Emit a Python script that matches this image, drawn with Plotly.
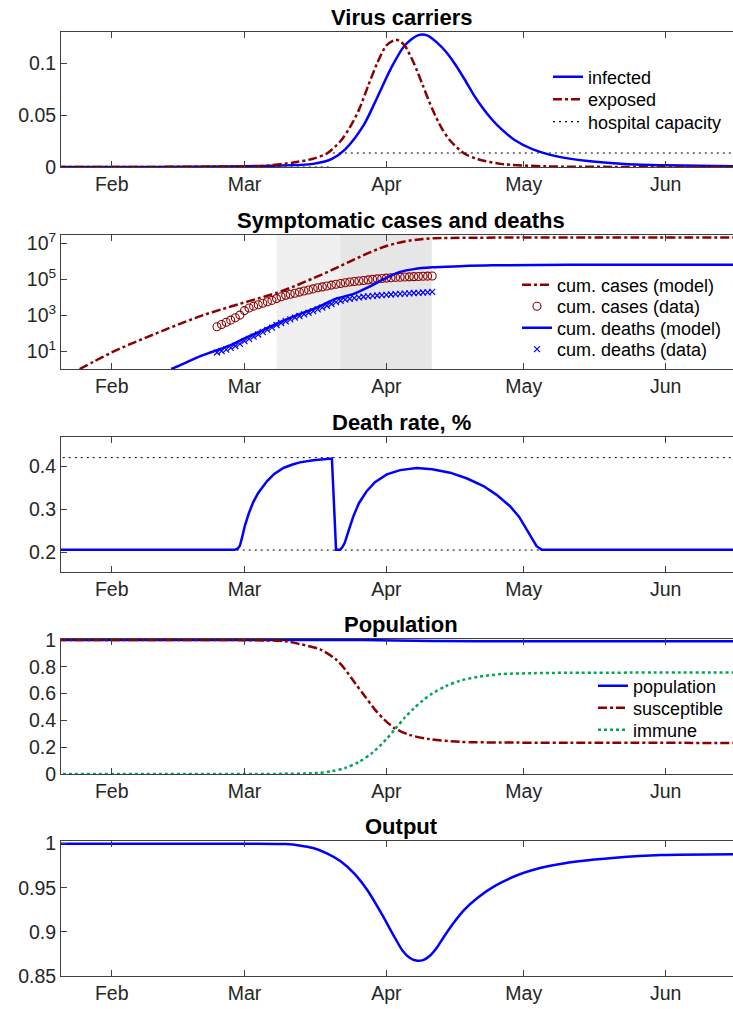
import pandas as pd
import plotly.graph_objects as go

W, H = 733, 1009
BASE = pd.Timestamp("2020-02-01")   # day 0 of every "day" array below

BLUE = "#0000ff"
DARKRED = "#8b0000"
GREEN = "#00a651"
AXIS = "#404040"
TEXT = "#262626"
FONT = "Liberation Sans, Arial, sans-serif"

# ---------------- Virus carriers (share of population) ----------------
infected_day = [-12, 10, 25, 35, 44, 48, 51, 55, 58, 61, 64, 67, 69, 71, 73, 75, 77, 79,
                81, 83, 85, 88, 92, 97, 104, 112, 121, 137]
infected = [0, 0.0001, 0.0005, 0.0012, 0.003, 0.0075, 0.017, 0.040, 0.067, 0.095, 0.117,
            0.127, 0.1265, 0.120, 0.111, 0.099, 0.085, 0.070, 0.057, 0.046, 0.037, 0.026,
            0.017, 0.0105, 0.0058, 0.003, 0.0017, 0.0006]

exposed_day = [-12, 10, 25, 33, 40, 44, 47, 50, 52, 54, 56, 58, 60, 62, 63, 64, 66, 68,
               70, 72, 74, 77, 80, 85, 95, 110, 137]
exposed = [0, 0.0001, 0.0005, 0.001, 0.0045, 0.008, 0.013, 0.025, 0.038, 0.055, 0.078,
           0.100, 0.117, 0.1225, 0.121, 0.117, 0.100, 0.078, 0.056, 0.038, 0.025, 0.013,
           0.0075, 0.003, 0.0006, 0.0001, 0]

capacity_day = [-12, 48.3, None, 48.3, 137]
capacity = [0, 0, None, 0.0135, 0.0135]

# ---------------- Symptomatic cases and deaths (log10) ----------------
cases_model_day = [-7, -4, 0, 4, 8, 12, 16, 20, 24, 28, 32, 36, 40, 44, 48, 52, 56, 60,
                   64, 68, 72, 80, 100, 137]
cases_model_log = [0.0, 0.40, 0.92, 1.38, 1.80, 2.22, 2.62, 3.00, 3.32, 3.63, 3.93, 4.24,
                   4.62, 5.05, 5.50, 5.98, 6.45, 6.85, 7.10, 7.24, 7.29, 7.31, 7.32, 7.32]

deaths_model_day = [13, 15, 19, 22, 26, 29, 33, 37, 41, 45, 49, 50, 53, 56, 59, 61, 63,
                    66, 70, 76, 83, 100, 137]
deaths_model_log = [0.0, 0.22, 0.68, 0.96, 1.33, 1.70, 2.17, 2.63, 3.05, 3.45, 3.92, 3.98,
                    4.20, 4.55, 4.95, 5.20, 5.40, 5.56, 5.66, 5.72, 5.77, 5.80, 5.80]

data_first_day = 23   # Feb 24, daily observations through Apr 11
cases_data_log = [2.35, 2.48, 2.60, 2.72, 2.85, 3.00, 3.25, 3.40, 3.50, 3.58, 3.66, 3.74,
                  3.82, 3.92, 4.02, 4.10, 4.16, 4.22, 4.28, 4.34, 4.40, 4.46, 4.52, 4.57,
                  4.62, 4.67, 4.72, 4.76, 4.80, 4.84, 4.87, 4.90, 4.93, 4.96, 4.99, 5.02,
                  5.04, 5.06, 5.08, 5.10, 5.11, 5.12, 5.13, 5.14, 5.15, 5.16, 5.17, 5.18]
deaths_data_log = [0.92, 1.00, 1.08, 1.18, 1.28, 1.40, 1.55, 1.68, 1.80, 1.92, 2.05, 2.18,
                   2.30, 2.45, 2.56, 2.66, 2.76, 2.86, 2.95, 3.04, 3.13, 3.22, 3.32, 3.42,
                   3.52, 3.62, 3.72, 3.80, 3.86, 3.91, 3.95, 3.99, 4.02, 4.04, 4.07, 4.09,
                   4.11, 4.13, 4.15, 4.17, 4.18, 4.20, 4.21, 4.23, 4.24, 4.26, 4.27, 4.29]

# shaded policy periods (start day, end day, fill)
periods = [(36, 49.9, "#f0f0f0"), (49.9, 69.9, "#e6e6e6")]

# ---------------- Death rate, % ----------------
rate_day = [-12, 26.9, 27.5, 28.0, 28.5, 29.1, 30.0, 30.9, 32.0, 33.9, 35.5, 37.5, 39.5,
            41.1, 44.0, 47.7, 48.1, 49.0, 49.9, 50.4, 50.9, 51.8, 52.8, 54.0, 55.7, 57.5,
            60.1, 63.0, 66.6, 70.0, 73.9, 77.5, 81.2, 84.0, 87.0, 89.0, 90.6, 91.8, 92.8,
            93.9, 140]
rate = [0.206, 0.206, 0.208, 0.215, 0.235, 0.262, 0.292, 0.316, 0.338, 0.365, 0.382, 0.396,
        0.404, 0.409, 0.414, 0.417, 0.418, 0.206, 0.206, 0.212, 0.222, 0.252, 0.284, 0.314,
        0.342, 0.363, 0.381, 0.391, 0.396, 0.393, 0.385, 0.372, 0.354, 0.334, 0.307, 0.282,
        0.253, 0.232, 0.214, 0.206, 0.206]
rate_bounds = [0.42, 0.205]

# ---------------- Population ----------------
population_day = [-12, 45, 55, 62, 70, 80, 137]
population = [1.0, 1.0, 0.999, 0.996, 0.992, 0.990, 0.990]

susceptible_day = [-12, 30, 38, 41, 45.5, 48.8, 51, 53.1, 55.3, 57.5, 59.7, 61.9, 65.2,
                   69.5, 76, 85, 100, 137]
susceptible = [1.0, 0.998, 0.99, 0.97, 0.93, 0.86, 0.78, 0.68, 0.58, 0.48, 0.40, 0.34,
               0.29, 0.26, 0.24, 0.235, 0.233, 0.232]

immune_day = [-12, 40, 45, 48, 51, 54, 57, 60, 62, 64, 66, 68, 70, 73, 76, 80, 85, 92,
              100, 137]
immune = [0, 0.002, 0.008, 0.02, 0.045, 0.09, 0.16, 0.26, 0.34, 0.42, 0.49, 0.55, 0.60,
          0.655, 0.695, 0.725, 0.745, 0.752, 0.755, 0.757]

# ---------------- Output ----------------
output_day = [-12, 30, 38, 41, 44, 47, 50, 53, 56, 59, 62, 63.5, 65, 66.5, 68, 69.5, 71,
              72.5, 74.5, 77, 80, 84, 89, 95, 102, 110, 120, 137]
output = [1.0, 1.0, 0.9995, 0.998, 0.995, 0.989, 0.980, 0.966, 0.946, 0.920, 0.892,
          0.879, 0.871, 0.8675, 0.868, 0.873, 0.882, 0.894, 0.909, 0.925, 0.939, 0.953,
          0.965, 0.974, 0.980, 0.984, 0.987, 0.988]

month_ticks = ["2020-02-01", "2020-03-01", "2020-04-01", "2020-05-01", "2020-06-01"]
month_labels = ["Feb", "Mar", "Apr", "May", "Jun"]

titles = ["Virus carriers", "Symptomatic cases and deaths", "Death rate, %",
          "Population", "Output"]


def to_dates(days):
    return [None if d is None else BASE + pd.Timedelta(days=d) for d in days]


# pixel boxes of the five panels (top, bottom)
panels = [(32, 167), (235, 369), (437, 572), (639, 774), (841, 976)]
X_LEFT = 61
x_range = [BASE + pd.Timedelta(days=-11.07), BASE + pd.Timedelta(days=135.7)]

# one legend box per entry: (legend id, left px of box, row centre px)
legend_rows = {}
for lid, left, ys in [("p1", 548, [77, 99.5, 122]),
                      ("p2", 517, [285, 306.5, 328, 349.5]),
                      ("p4", 593, [686, 708, 730])]:
    legend_rows[lid] = [(left, y) for y in ys]

legend_ids = []
fig = go.Figure()


def new_legend(panel, row):
    lid = "legend" if not legend_ids else "legend%d" % (len(legend_ids) + 1)
    legend_ids.append((lid, legend_rows[panel][row]))
    return lid


def line(days, vals, name, color, width, dash, axis, legend=None, shape="spline"):
    fig.add_trace(go.Scatter(
        x=to_dates(days), y=vals, name=name, mode="lines",
        line=dict(color=color, width=width, dash=dash, shape=shape, smoothing=0.8),
        xaxis="x" + axis, yaxis="y" + axis,
        showlegend=legend is not None, legend=legend or "legend",
        connectgaps=False, hoverinfo="skip"))


# panel 1
line(infected_day, infected, "infected", BLUE, 2.5, "solid", "", new_legend("p1", 0))
line(exposed_day, exposed, "exposed", DARKRED, 2.5, "dashdot", "", new_legend("p1", 1))
line(capacity_day, capacity, "hospital capacity", "black", 1.2, "2px,4px", "",
     new_legend("p1", 2), shape="linear")

# panel 2: shaded periods
for d0, d1, col in periods:
    fig.add_shape(type="rect", xref="x2", yref="y2 domain",
                  x0=BASE + pd.Timedelta(days=d0), x1=BASE + pd.Timedelta(days=d1),
                  y0=0, y1=1, fillcolor=col, line_width=0, layer="below")

line(cases_model_day, [10 ** v for v in cases_model_log], "cum. cases (model)",
     DARKRED, 2.5, "dashdot", "2", new_legend("p2", 0))
data_days = [data_first_day + i for i in range(len(cases_data_log))]
fig.add_trace(go.Scatter(
    x=to_dates(data_days), y=[10 ** v for v in cases_data_log], name="cum. cases (data)",
    mode="markers", marker=dict(symbol="circle-open", size=8, color=DARKRED,
                                line=dict(width=1.1, color=DARKRED)),
    xaxis="x2", yaxis="y2", legend=new_legend("p2", 1), hoverinfo="skip"))
line(deaths_model_day, [10 ** v for v in deaths_model_log], "cum. deaths (model)",
     BLUE, 2.5, "solid", "2", new_legend("p2", 2))
fig.add_trace(go.Scatter(
    x=to_dates(data_days), y=[10 ** v for v in deaths_data_log], name="cum. deaths (data)",
    mode="markers", marker=dict(symbol="x-thin-open", size=6, color=BLUE,
                                line=dict(width=1.2, color=BLUE)),
    xaxis="x2", yaxis="y2", legend=new_legend("p2", 3), hoverinfo="skip"))

# panel 3
for b in rate_bounds:
    line([-12, 140], [b, b], None, "black", 1, "2px,4px", "3", shape="linear")
line(rate_day, rate, None, BLUE, 2.5, "solid", "3", shape="linear")

# panel 4
line(population_day, population, "population", BLUE, 2.5, "solid", "4",
     new_legend("p4", 0))
line(susceptible_day, susceptible, "susceptible", DARKRED, 2.5, "dashdot", "4",
     new_legend("p4", 1))
line(immune_day, immune, "immune", GREEN, 2.5, "dot", "4", new_legend("p4", 2))

# panel 5
line(output_day, output, None, BLUE, 2.5, "solid", "5")

y_settings = [
    dict(range=[0, 0.13], tickvals=[0, 0.05, 0.1], ticktext=["0", "0.05", "0.1"]),
    dict(type="log", range=[0, 7.46], tickvals=[10, 1e3, 1e5, 1e7],
         ticktext=["10<sup>1</sup>", "10<sup>3</sup>", "10<sup>5</sup>", "10<sup>7</sup>"]),
    dict(range=[0.154, 0.468], tickvals=[0.2, 0.3, 0.4], ticktext=["0.2", "0.3", "0.4"]),
    dict(range=[0, 1.007], tickvals=[0, 0.2, 0.4, 0.6, 0.8, 1],
         ticktext=["0", "0.2", "0.4", "0.6", "0.8", "1"]),
    dict(range=[0.85, 1.003], tickvals=[0.85, 0.9, 0.95, 1],
         ticktext=["0.85", "0.9", "0.95", "1"]),
]

layout = dict(
    width=W, height=H, margin=dict(l=0, r=0, t=0, b=0, autoexpand=False),
    paper_bgcolor="white", plot_bgcolor="white",
    font=dict(family=FONT, color=TEXT, size=19),
    showlegend=True,
)
annotations = []
for i, ((top, bottom), ys, title) in enumerate(zip(panels, y_settings, titles)):
    suffix = "" if i == 0 else str(i + 1)
    dom = [1 - bottom / H, 1 - top / H]
    layout["xaxis" + suffix] = dict(
        domain=[X_LEFT / W, 1], anchor="y" + suffix, type="date", range=x_range,
        tickvals=month_ticks, ticktext=month_labels, ticks="inside", ticklen=6,
        tickcolor=AXIS, showline=True, linecolor=AXIS, linewidth=1, mirror="ticks",
        showgrid=False, zeroline=False, tickfont=dict(size=19.5, color=TEXT),
        fixedrange=True, automargin=False)
    layout["yaxis" + suffix] = dict(
        domain=dom, anchor="x" + suffix, ticks="inside", ticklen=6, tickcolor=AXIS,
        showline=True, linecolor=AXIS, linewidth=1, mirror=False, showgrid=False,
        zeroline=False, tickfont=dict(size=19.5, color=TEXT), fixedrange=True,
        automargin=False, **ys)
    annotations.append(dict(
        text="<b>" + title + "</b>", xref="paper", yref="paper", x=401.5 / W,
        y=1 - (top - 15) / H, xanchor="center", yanchor="middle", showarrow=False,
        font=dict(size=22, color="black", family=FONT)))
layout["annotations"] = annotations

for lid, (left, ymid) in legend_ids:
    layout[lid] = dict(bgcolor="rgba(255,255,255,0)", borderwidth=0,
                       font=dict(size=18, color="black", family=FONT),
                       x=left / W, y=1 - ymid / H, xanchor="left", yanchor="middle",
                       tracegroupgap=0)

fig.update_layout(**layout)
fig.write_html("out.html",
               post_script="document.body.style.margin='0';"
                           "document.body.style.padding='0';")
